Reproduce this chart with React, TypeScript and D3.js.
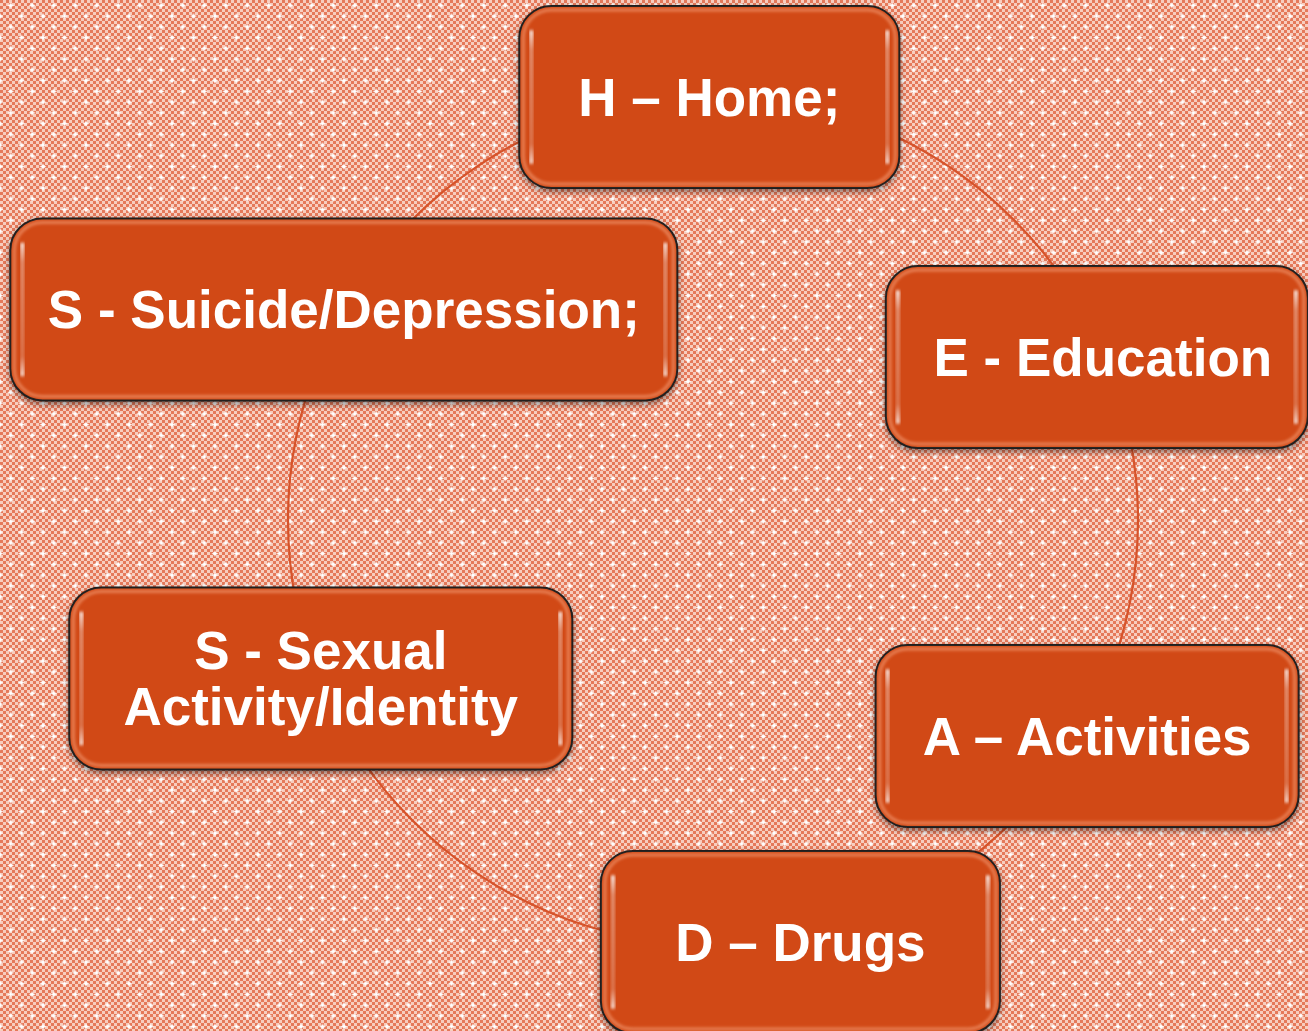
import * as d3 from "d3";

// cycle items, read clockwise from the top
const labels: string[][] = [
  ["H – Home;"],
  ["E - Education"],
  ["A – Activities"],
  ["D – Drugs"],
  ["S - Sexual", "Activity/Identity"],
  ["S - Suicide/Depression;"],
];
// where each box sits around the ring: angle (degrees, 0 = 3 o'clock, clockwise) and distance from centre
const angles = [-90.5, -23, 30, 78.3, 158, 209.7];
const radii = [423, 417, 432, 431, 423, 425];
// box widths as drawn
const boxWidths = [380, 422, 423, 399, 503, 667];

const W = 1308;
const H = 1031;
const CX = 713;
const CY = 520;
const R = 425;
const BOX_H = 182;
const FONT = 53;
const LINE_H = 56;

const FILL = "#D14816";

export default function App() {
  const rad = d3.scaleLinear().domain([0, 360]).range([0, 2 * Math.PI]);
  const nodes = labels.map((lines, i) => {
    const a = rad(angles[i]);
    return {
      lines,
      x: CX + radii[i] * Math.cos(a),
      y: CY + radii[i] * Math.sin(a),
      w: boxWidths[i],
    };
  });

  const ring = d3.arc()({
    innerRadius: R - 1.1,
    outerRadius: R + 1.1,
    startAngle: 0,
    endAngle: 2 * Math.PI,
  });

  const star = (x: number, y: number) =>
    `M${x},${y - 3.5} L${x + 0.9},${y - 0.9} L${x + 3.5},${y} L${x + 0.9},${y + 0.9} L${x},${y + 3.5} L${x - 0.9},${y + 0.9} L${x - 3.5},${y} L${x - 0.9},${y - 0.9} Z`;

  return (
    <div style={{ position: "fixed", left: 0, top: 0 }}>
      <svg width={W} height={H} style={{ display: "block" }}>
        <defs>
          <pattern id="checker" width="6" height="6" patternUnits="userSpaceOnUse">
            <rect width="6" height="6" fill="#F7CDBE" />
            <rect width="3" height="3" fill="#E5795A" />
            <rect x="3" y="3" width="3" height="3" fill="#E5795A" />
          </pattern>
          <pattern id="stars" width="21.5" height="21.5" patternUnits="userSpaceOnUse">
            <path d={star(10.75, 5.4)} fill="#fff" />
            <path d={star(0, 16.15)} fill="#fff" />
            <path d={star(21.5, 16.15)} fill="#fff" />
            <rect x="9.5" y="4.15" width="2.5" height="2.5" fill="#fff" />
            <rect x="-1.25" y="14.9" width="2.5" height="2.5" fill="#fff" />
            <rect x="20.25" y="14.9" width="2.5" height="2.5" fill="#fff" />
          </pattern>
          <linearGradient id="vbar" x1="0" y1="0" x2="0" y2="1">
            <stop offset="0" stopColor="#fff" stopOpacity="0.95" />
            <stop offset="0.15" stopColor="#fff" stopOpacity="0.4" />
            <stop offset="0.85" stopColor="#fff" stopOpacity="0.25" />
            <stop offset="1" stopColor="#fff" stopOpacity="0.9" />
          </linearGradient>
          <filter id="shadow" x="-10%" y="-10%" width="120%" height="130%">
            <feGaussianBlur in="SourceAlpha" stdDeviation="3" />
            <feOffset dx="0" dy="3" result="b" />
            <feComponentTransfer>
              <feFuncA type="linear" slope="0.45" />
            </feComponentTransfer>
            <feMerge>
              <feMergeNode />
              <feMergeNode in="SourceGraphic" />
            </feMerge>
          </filter>
          <filter id="soft" x="-5%" y="-5%" width="110%" height="110%">
            <feGaussianBlur stdDeviation="1.6" />
          </filter>
          <filter id="glow" x="-50%" y="-50%" width="200%" height="200%">
            <feGaussianBlur stdDeviation="0.5" />
          </filter>
        </defs>

        <rect width={W} height={H} fill="url(#checker)" />
        <rect width={W} height={H} fill="url(#stars)" filter="url(#glow)" />

        <path d={ring ?? ""} transform={`translate(${CX},${CY})`} fill="#D6532A" />

        {nodes.map((n, i) => {
          const x0 = n.x - n.w / 2;
          const y0 = n.y - BOX_H / 2;
          const startY = n.y - ((n.lines.length - 1) * LINE_H) / 2 + FONT * 0.355;
          return (
            <g key={i}>
              <rect
                x={x0}
                y={y0}
                width={n.w}
                height={BOX_H}
                rx={32}
                fill={FILL}
                stroke="#1c1c1c"
                strokeWidth={2}
                filter="url(#shadow)"
              />
              <rect
                x={x0 + 4}
                y={y0 + 4}
                width={n.w - 8}
                height={BOX_H - 8}
                rx={28}
                fill="none"
                stroke="#F39A72"
                strokeWidth={3}
                opacity={0.7}
                filter="url(#soft)"
              />
              <rect x={x0 + 10} y={y0 + 24} width={4} height={BOX_H - 48} rx={2} fill="url(#vbar)" filter="url(#soft)" />
              <rect x={x0 + n.w - 14} y={y0 + 24} width={4} height={BOX_H - 48} rx={2} fill="url(#vbar)" filter="url(#soft)" />
              <text
                textAnchor="middle"
                fill="#fff"
                fontFamily="'Liberation Sans', Arial, sans-serif"
                fontWeight="bold"
                fontSize={FONT}
              >
                {n.lines.map((l, j) => (
                  <tspan key={j} x={n.x + (i === 1 ? 6 : 0)} y={startY + j * LINE_H}>
                    {l}
                  </tspan>
                ))}
              </text>
            </g>
          );
        })}
      </svg>
    </div>
  );
}
